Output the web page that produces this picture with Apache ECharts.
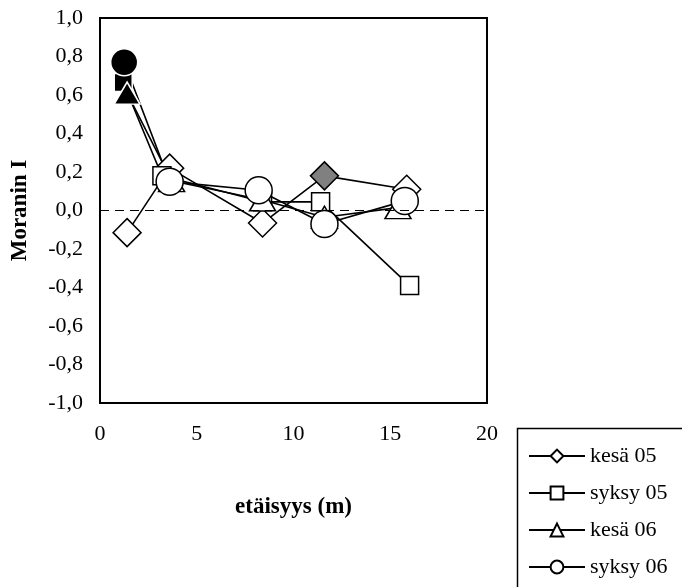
<!DOCTYPE html>
<html><head><meta charset="utf-8">
<script src="https://cdn.jsdelivr.net/npm/echarts@6/dist/echarts.min.js"></script>
<style>html,body{margin:0;padding:0;background:#fff}#c{width:682px;height:587px}</style>
</head><body><div id="c"></div>
<script>
var seriesNames = ["kesä 05", "syksy 05", "kesä 06", "syksy 06"];
var kesa05 = [[1.4, -0.115], [3.6, 0.22], [8.4, -0.065], [11.6, 0.18], [15.85, 0.11]];
var syksy05 = [[1.2, 0.665], [3.2, 0.18], [8.4, 0.045], [11.4, 0.045], [16.0, -0.39]];
var kesa06 = [[1.4, 0.61], [3.7, 0.155], [8.4, 0.055], [11.6, -0.035], [15.4, 0.015]];
var syksy06 = [[1.25, 0.77], [3.6, 0.15], [8.2, 0.105], [11.6, -0.07], [15.75, 0.05]];
// index of significant (filled) points per series and their fill
var filled05k = {3: "#808080"};
var filled05s = {0: "#000"};
var filled06k = {0: "#000"};
var filled06s = {0: "#000"};

var serif = "'Liberation Serif','Times New Roman',serif";

function pts(arr, filled) {
  return arr.map(function (p, i) {
    if (filled[i]) {
      var c = filled[i];
      return {value: p, itemStyle: {color: c, borderColor: c === "#000" ? "#fff" : "#000"}};
    }
    return {value: p};
  });
}
function mk(name, data, filled, symbol, size) {
  return {
    name: name, type: "line", data: pts(data, filled), symbol: symbol, symbolSize: size,
    lineStyle: {color: "#000", width: 1.6},
    itemStyle: {color: "#fff", borderColor: "#000", borderWidth: 1.5},
    emphasis: {disabled: true}, animation: false
  };
}
var s1 = mk(seriesNames[0], kesa05, filled05k, "diamond", 28);
s1.markLine = {silent: true, symbol: "none", label: {show: false},
  lineStyle: {color: "#000", type: [9, 6], width: 1}, data: [{yAxis: 0}]};
var series = [
  s1,
  mk(seriesNames[1], syksy05, filled05s, "rect", 18),
  mk(seriesNames[2], kesa06, filled06k, "triangle", [26, 22]),
  mk(seriesNames[3], syksy06, filled06s, "circle", 27)
];

var chart = echarts.init(document.getElementById("c"), null, {renderer: "canvas"});
chart.setOption({
  animation: false,
  backgroundColor: "#fff",
  grid: {left: 100, top: 18, width: 387, height: 385, show: true, borderColor: "#000", borderWidth: 2, backgroundColor: "transparent"},
  xAxis: {
    type: "value", min: 0, max: 20, interval: 5,
    name: "etäisyys (m)", nameLocation: "middle", nameGap: 93,
    nameTextStyle: {fontFamily: serif, fontWeight: "bold", fontSize: 23, color: "#000"},
    axisLine: {show: true, onZero: false, lineStyle: {color: "#000", width: 2}},
    axisTick: {show: false}, splitLine: {show: false},
    axisLabel: {fontFamily: serif, fontSize: 22, color: "#000", margin: 20}
  },
  yAxis: {
    type: "value", min: -1, max: 1, interval: 0.2,
    name: "Moranin I", nameLocation: "middle", nameGap: 68,
    nameTextStyle: {fontFamily: serif, fontWeight: "bold", fontSize: 23, color: "#000"},
    axisLine: {show: true, onZero: false, lineStyle: {color: "#000", width: 2}},
    axisTick: {show: false}, splitLine: {show: false},
    axisLabel: {fontFamily: serif, fontSize: 22, color: "#000", margin: 17,
      formatter: function (v) { if (Math.abs(v) < 1e-9) v = 0; return v.toFixed(1).replace(".", ","); }}
  },
  legend: {
    orient: "vertical", left: 523, top: 440, height: 200, itemWidth: 56, itemHeight: 16, itemGap: 15,
    textStyle: {fontFamily: serif, fontSize: 22, color: "#000"},
    data: seriesNames
  },
  graphic: [{type: "rect", left: 515, top: 426, shape: {width: 200, height: 200},
    style: {fill: "none", stroke: "#000", lineWidth: 1.5}, silent: true}],
  series: series
});
</script></body></html>
